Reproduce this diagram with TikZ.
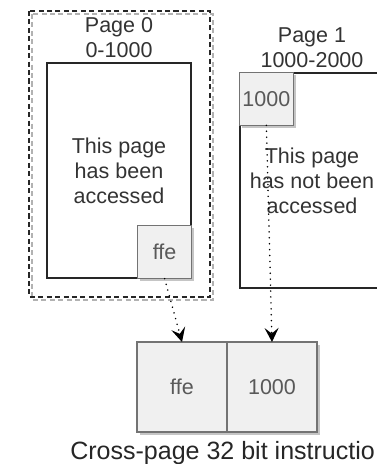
\documentclass[tikz,border=0pt]{standalone}
\usepackage{fontspec}
\setmainfont{Liberation Sans}
\usetikzlibrary{arrows.meta,positioning,shadows}

\begin{document}
\begin{tikzpicture}[x=0.25cm,y=-0.25cm,
    every node/.style={font=\fontsize{15.3}{17.9}\selectfont, text=black!80, align=center},
    page/.style={draw=black!85, line width=0.9pt, minimum width=3.6cm, minimum height=5.375cm, inner sep=0pt},
    cell/.style={draw=black!55, line width=0.9pt, fill=black!6, text=black!65, inner sep=0pt, outer sep=0pt,
      drop shadow={shadow xshift=2pt, shadow yshift=-2pt, fill=black!45, opacity=0.5}},
    link/.style={black, line width=1.2pt, dash pattern=on 0.01pt off 4.2pt, line cap=round,
      -{Stealth[length=10pt, width=10pt, inset=4pt, line cap=butt, sep=0pt]}}]
    \useasboundingbox (0,0) rectangle (37.6,46.4);

    % Dashed frame round page 0
    \draw[black!30, line width=1.1pt, dash pattern=on 3.6pt off 2.4pt] (3.2,1.4) rectangle (21.3,30.0);
    \draw[black!85, line width=1.1pt, dash pattern=on 3.6pt off 2.4pt] (2.9,1.1) rectangle (21.0,29.7);

    % Pages
    \node[page] (page0) at (11.9,17.05) {This page\\has been\\accessed};
    \node[page] (page1) at (31.2,18.05) {This page\\has not been\\accessed};
    \node (lbl0) at (11.9,3.75) {Page 0\\0-1000};
    \node (lbl1) at (31.2,4.75) {Page 1\\1000-2000};

    % Halves of the instruction inside the pages
    \node[cell, minimum width=1.35cm, minimum height=1.325cm, anchor=south east] (ffe) at (page0.south east) {ffe};
    \node[cell, minimum width=1.35cm, minimum height=1.325cm, anchor=north west] (k1000) at (page1.north west) {1000};

    % The instruction
    \node[cell, minimum size=2.25cm] (insA) at (18.2,38.7) {ffe};
    \node[cell, minimum size=2.25cm, right=0pt of insA] (insB) {1000};
    \node[font=\fontsize{17.8}{21}\selectfont, text=black!85, inner sep=0pt, anchor=west] (caption) at (7.0,45.3) {Cross-page 32 bit instructio};

    \draw[link] (ffe.south) -- (insA.north);
    \draw[link] (k1000.south) -- (insB.north);
\end{tikzpicture}
\end{document}
